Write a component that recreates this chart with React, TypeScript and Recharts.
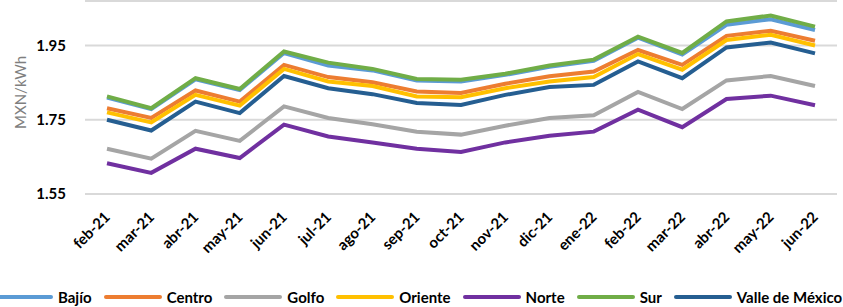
import React from "react";
import { LineChart, Line, XAxis, YAxis, CartesianGrid, Legend } from "recharts";

const months = [
  "feb-21", "mar-21", "abr-21", "may-21", "jun-21", "jul-21", "ago-21", "sep-21", "oct-21",
  "nov-21", "dic-21", "ene-22", "feb-22", "mar-22", "abr-22", "may-22", "jun-22",
];

const bajio = [1.81, 1.779, 1.859, 1.830, 1.930, 1.896, 1.883, 1.856, 1.853, 1.871, 1.893, 1.909, 1.971, 1.926, 2.006, 2.021, 1.992];
const centro = [1.781, 1.755, 1.829, 1.799, 1.898, 1.865, 1.851, 1.826, 1.822, 1.847, 1.867, 1.880, 1.938, 1.898, 1.976, 1.990, 1.963];
const golfo = [1.672, 1.645, 1.720, 1.693, 1.786, 1.755, 1.738, 1.718, 1.710, 1.734, 1.755, 1.762, 1.825, 1.779, 1.856, 1.868, 1.841];
const oriente = [1.770, 1.743, 1.817, 1.788, 1.887, 1.853, 1.841, 1.813, 1.811, 1.835, 1.853, 1.865, 1.927, 1.885, 1.965, 1.979, 1.950];
const norte = [1.633, 1.607, 1.672, 1.647, 1.737, 1.705, 1.689, 1.672, 1.663, 1.689, 1.707, 1.718, 1.777, 1.730, 1.806, 1.815, 1.789];
const sur = [1.813, 1.781, 1.862, 1.833, 1.934, 1.904, 1.887, 1.860, 1.858, 1.874, 1.896, 1.912, 1.974, 1.930, 2.015, 2.031, 2.001];
const valle = [1.750, 1.721, 1.799, 1.768, 1.868, 1.835, 1.819, 1.795, 1.790, 1.817, 1.838, 1.844, 1.907, 1.862, 1.945, 1.958, 1.929];

const yTicks = [1.55, 1.75, 1.95];

const series = [
  { key: "bajio", name: "Bajío", color: "#5B9BD5", values: bajio },
  { key: "centro", name: "Centro", color: "#ED7D31", values: centro },
  { key: "golfo", name: "Golfo", color: "#A5A5A5", values: golfo },
  { key: "oriente", name: "Oriente", color: "#FFC000", values: oriente },
  { key: "norte", name: "Norte", color: "#7030A0", values: norte },
  { key: "sur", name: "Sur", color: "#70AD47", values: sur },
  { key: "valle", name: "Valle de México", color: "#255E91", values: valle },
];

const data = months.map((m, i) => {
  const row: Record<string, string | number> = { month: m };
  series.forEach((s) => (row[s.key] = s.values[i]));
  return row;
});

const FONT = "Lato, 'Open Sans', sans-serif";

function MonthTick(props: any) {
  const { x, y, payload } = props;
  return (
    <g transform={`translate(${x + 4},${y + 24})`}>
      <text transform="rotate(-45)" textAnchor="end" fontSize={15} fontWeight={700} fill="#000" fontFamily={FONT}>
        {payload.value}
      </text>
    </g>
  );
}

function LegendRow() {
  return (
    <div style={{ display: "flex", alignItems: "center", marginLeft: -5, marginTop: 3, fontFamily: FONT, fontWeight: 700, fontSize: 15, color: "#000", whiteSpace: "nowrap" }}>
      {series.map((s) => (
        <div key={s.key} style={{ display: "flex", alignItems: "center", marginRight: 12 }}>
          <span style={{ display: "inline-block", width: 58, height: 4, borderRadius: 2, background: s.color, marginRight: 5 }} />
          <span>{s.name}</span>
        </div>
      ))}
    </div>
  );
}

export default function App() {
  return (
    <div style={{ position: "absolute", left: 0, top: 0, width: 843, height: 307, background: "#fff", overflow: "hidden" }}>
      <LineChart width={843} height={307} data={data} margin={{ top: 1, right: 6, bottom: 0, left: 0 }}>
        <CartesianGrid vertical={false} stroke="#D9D9D9" strokeWidth={2} />
        <XAxis
          dataKey="month"
          axisLine={false}
          tickLine={false}
          tickSize={0}
          tickMargin={0}
          interval={0}
          height={91}
          padding={{ left: 22, right: 22 }}
          tick={<MonthTick />}
        />
        <YAxis
          domain={[1.55, 2.07]}
          ticks={yTicks}
          allowDataOverflow
          axisLine={false}
          tickLine={false}
          width={85}
          tickMargin={13}
          tickFormatter={(v: number) => v.toFixed(2)}
          tick={{ fontSize: 15, fontWeight: 700, fill: "#000", fontFamily: FONT }}
          label={{ value: "MXN/kWh", angle: -90, position: "insideLeft", offset: 21, dy: -5, style: { fontSize: 15, fill: "#7F7F7F", fontFamily: FONT, textAnchor: "middle" } }}
        />
        <Legend verticalAlign="bottom" height={22} wrapperStyle={{ left: 0, bottom: 0, width: 843 }} content={() => <LegendRow />} />
        {series.map((s) => (
          <Line
            key={s.key}
            dataKey={s.key}
            name={s.name}
            stroke={s.color}
            strokeWidth={4}
            dot={false}
            activeDot={false}
            type="linear"
            isAnimationActive={false}
          />
        ))}
      </LineChart>
    </div>
  );
}
